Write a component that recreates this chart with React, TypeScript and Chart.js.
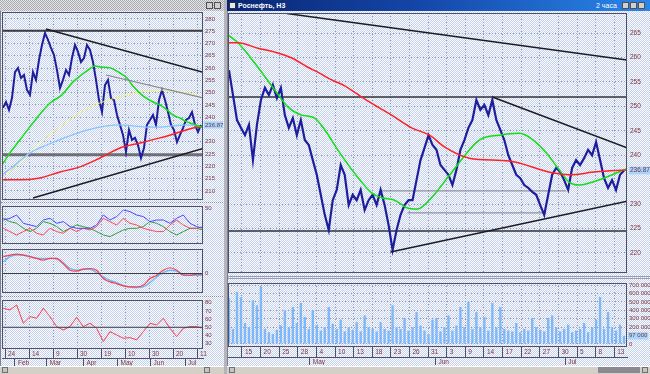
import React, { useEffect, useRef } from "react";
import { Chart, registerables } from "chart.js";

Chart.register(...registerables);

/* ================= RIGHT WINDOW (2-hour bars, Apr – Jul) ================= */
const rightClose = [
  257.4, 252.3, 247.2, 245.6, 244.1, 246.2, 239.0, 246.2, 251.3, 253.8,
  252.3, 254.4, 251.7, 253.8, 248.2, 245.6, 247.6, 244.1, 247.2, 243.1,
  242.1, 239.0, 236.0, 231.9, 227.8, 224.7, 230.8, 232.9, 238.0, 236.0,
  229.8, 231.9, 230.8, 232.9, 228.8, 230.8, 231.9, 229.8, 232.9, 229.8,
  225.7, 220.6, 224.7, 227.8, 229.8, 230.8, 230.8, 234.9, 239.0, 241.5,
  244.1, 242.1, 241.1, 238.0, 237.0, 236.0, 233.9, 237.0, 241.1, 243.1,
  245.6, 247.2, 251.3, 249.3, 250.3, 248.2, 251.3, 247.2, 245.2, 243.1,
  240.0, 238.0, 236.0, 235.3, 233.9, 233.3, 232.5, 231.9, 229.8, 227.8,
  231.9, 236.0, 237.4, 236.6, 234.9, 232.9, 237.4, 239.0, 238.0, 239.4,
  241.1, 240.0, 242.7, 239.0, 235.3, 233.3, 234.9, 232.9, 236.0, 236.87,
];
const rightLast = 236.87;
const rightSlowMaX = [-0.25, 2.25, 7.25, 11.5, 15.75, 19.75, 22.25, 25.75, 29, 33.25, 37.25, 40.75, 45.75, 50.25, 54, 60.25, 70.25, 81, 85.25, 92, 99.5];
const rightSlowMaY = [263.0, 263.0, 261.9, 261.1, 259.9, 258.0, 257.0, 255.4, 254.2, 251.9, 249.9, 248.2, 245.6, 244.1, 241.7, 239.4, 238.8, 236.4, 236.0, 236.6, 237.0];
const rightFastMaX = [-0.25, 2.25, 7.25, 11.5, 14.75, 18.25, 21.5, 24, 27.25, 32.25, 35.75, 38.25, 41.5, 44.75, 47.25, 50.75, 55.25, 62.75, 67.75, 72.75, 75.25, 79.5, 82.75, 85.25, 87.75, 90.25, 94.5, 99.5];
const rightFastMaY = [264.6, 263.0, 258.0, 253.3, 249.9, 248.2, 247.6, 245.2, 241.1, 235.5, 232.3, 231.3, 230.8, 229.2, 229.0, 231.3, 235.9, 243.1, 244.1, 244.5, 243.7, 240.5, 237.0, 234.5, 233.9, 234.3, 235.5, 237.2];
const rightTrendTopX = [14.5, 99.75];
const rightTrendTopY = [269.0, 259.5];
const rightTrendMidX = [66, 99.75];
const rightTrendMidY = [251.9, 241.5];
const rightSupportX = [40.5, 99.75];
const rightSupportY = [220.2, 230.6];
const rightLevelHigh = 251.9;
const rightLevelLow = 224.5;
const rightLevelA_X = [38, 84.5];
const rightLevelA = 232.7;
const rightLevelB_X = [44.75, 79.5];
const rightLevelB = 228.2;
const rightPriceTicks = [220, 225, 230, 236.87, 240, 245, 250, 255, 260, 265];

const rightVolume = [
  550000, 180000, 620000, 560000, 250000, 200000, 520000, 460000, 680000, 180000,
  140000, 120000, 170000, 220000, 400000, 200000, 440000, 250000, 490000, 320000,
  180000, 400000, 230000, 160000, 200000, 440000, 240000, 180000, 290000, 150000,
  200000, 170000, 260000, 150000, 340000, 200000, 180000, 150000, 260000, 180000,
  160000, 460000, 200000, 180000, 310000, 160000, 200000, 380000, 220000, 160000,
  120000, 290000, 310000, 150000, 200000, 340000, 160000, 220000, 440000, 200000,
  500000, 180000, 380000, 200000, 320000, 160000, 490000, 200000, 440000, 180000,
  160000, 150000, 250000, 140000, 180000, 160000, 310000, 200000, 170000, 150000,
  310000, 340000, 200000, 150000, 180000, 230000, 140000, 160000, 180000, 250000,
  140000, 200000, 290000, 560000, 180000, 380000, 200000, 160000, 230000, 97000,
];
const rightVolumeTicks = [0, 97000, 200000, 300000, 400000, 500000, 600000, 700000];
const rightDays = ["15", "20", "25", "28", "4", "10", "13", "18", "23", "26", "31", "3", "9", "14", "17", "22", "27", "30", "5", "8", "13"];
const rightMonths = ["May", "Jun", "Jul"];
const rightMonthStart = [20.25, 51.75, 84.25];

/* ================= LEFT WINDOW (daily, Jan – Jul) ================= */
const leftClose = [
  243.8, 246.2, 243.0, 247.8, 258.4, 260.1, 256.0, 257.2, 251.1, 249.1,
  258.4, 255.2, 263.3, 269.4, 274.3, 271.5, 268.2, 265.3, 259.2, 251.9,
  255.2, 259.2, 257.2, 264.1, 269.4, 266.6, 262.5, 264.1, 269.4, 267.4,
  262.5, 255.2, 247.0, 242.1, 253.1, 255.2, 247.8, 247.0, 240.9, 236.9,
  232.8, 225.9, 234.8, 230.8, 231.6, 228.7, 223.4, 227.5, 236.9, 238.9,
  240.9, 236.9, 247.0, 251.1, 247.0, 242.1, 236.9, 234.8, 229.9, 232.8,
  235.6, 238.9, 239.7, 242.1, 236.9, 234.0, 236.87,
];
const leftLast = 236.87;
const leftGreenMaX = [-0.33, 2.33, 5.67, 10, 15.67, 19.67, 23.33, 25.67, 28.33, 30.67, 32.33, 35.67, 39, 41.33, 43.33, 46.67, 50, 52.33, 54.67, 56.67, 59, 61.33, 63.33, 66.67];
const leftGreenMaY = [220.6, 225.5, 230.8, 237.7, 245.8, 249.1, 254.4, 256.8, 259.2, 260.9, 260.5, 260.1, 258.0, 256.0, 252.7, 248.7, 246.2, 245.0, 243.0, 240.9, 239.7, 238.1, 237.3, 235.8];
const leftYellowMaX = [-0.33, 5.67, 12.33, 19, 25.67, 32.33, 39, 45.67, 52.33, 56.67, 61.33, 66.67];
const leftYellowMaY = [215.3, 221.4, 229.5, 236.0, 241.7, 245.8, 248.3, 250.3, 251.1, 250.7, 249.9, 247.9];
const leftBlueMaX = [-0.33, 3.33, 9, 14.67, 21.33, 28, 34.67, 39, 43.33, 48, 52.33, 56.67, 61.33, 66.67];
const leftBlueMaY = [216.5, 219.8, 225.5, 228.7, 232.0, 234.8, 236.5, 236.9, 236.5, 236.0, 236.0, 236.5, 236.9, 236.0];
const leftRedMaX = [-0.33, 5.67, 12.33, 19, 25.67, 32.33, 39, 45.67, 52.33, 59, 63.33, 66.67];
const leftRedMaY = [214.5, 214.5, 215.3, 217.7, 219.8, 223.4, 227.5, 229.5, 231.6, 234.0, 235.6, 236.2];
const leftTrendTopX = [14.33, 66.67];
const leftTrendTopY = [275.9, 258.3];
const leftTrendMidX = [34.33, 66.67];
const leftTrendMidY = [257.2, 247.9];
const leftSupportX = [10, 66.67];
const leftSupportY = [207.1, 227.3];
const leftLevelHigh = 275.2;
const leftLevelLow = 224.7;
const leftPriceTicks = [210, 215, 220, 225, 230, 236.87, 240, 245, 250, 255, 260, 265, 270, 275, 280];

const leftDiPlus = [38.3, 40, 43.3, 35, 33.3, 31.7, 38.3, 40, 35, 36.7, 31.7, 30, 30, 30, 33.3, 43.3, 38.3, 41.7, 48.3, 46.7, 43.3, 41.7, 36.7, 38.3, 38.3, 35, 40, 43.3, 35, 31.7, 30];
const leftDiMinus = [30, 26.7, 23.3, 26.7, 30, 25, 23.3, 30, 26.7, 25, 30, 26.7, 30, 28.3, 31.7, 40, 36.7, 33.3, 40, 35, 33.3, 30, 28.3, 26.7, 26.7, 33.3, 38.3, 33.3, 30, 30, 31.7];
const leftAdx = [40, 36.7, 35, 30, 26.7, 30, 36.7, 35, 31.7, 26.7, 30, 33.3, 31.7, 30, 26.7, 23.3, 21.7, 25, 28.3, 30, 30, 31.7, 36.7, 35, 31.7, 26.7, 23.3, 26.7, 30, 30, 28.3];
const leftMacd = [16.7, 18.3, 19.3, 18.3, 16.7, 15, 13.3, 15, 15, 10, 3.3, 2.3, 4.3, 5, 3.3, -5, -8.3, -10, -12.3, -13.3, -13.3, -11.7, -5, -1.7, 3.3, 5.7, 3.3, -1.7, -1.7, -0.7, -0.7];
const leftSignal = [11.7, 16.7, 18.3, 18.3, 16.7, 15, 15, 15, 14.3, 10, 5, 3.3, 4.3, 4.3, 1, -3.3, -6.7, -9, -11.7, -13.3, -14, -13.3, -9, -3.3, 1, 3.3, 2.3, -1, -1.7, -1.7, -1.7];
const leftRsi = [73.2, 71.1, 77.2, 54.9, 63.0, 61.0, 73.2, 63.0, 50.8, 46.7, 50.8, 62.2, 50.8, 54.9, 48.8, 32.5, 44.7, 40.7, 36.6, 37.4, 34.6, 44.7, 54.9, 52.8, 61.0, 48.8, 38.6, 48.8, 50.8, 50.8, 48.8];
const leftRsiTicks = [30, 40, 50, 60, 70, 80];
const leftDays = ["24", "14", "9", "30", "19", "10", "30", "20", "11"];
const leftMonths = ["Feb", "Mar", "Apr", "May", "Jun", "Jul"];
const leftMonthStart = [4, 14.6, 26.8, 38.2, 49.2, 60.7];

/* ================= styling / layout ================= */
const FONT = '"Liberation Sans", Arial, sans-serif';
const GRID = "#8f99ba";
const FRAME = "#4c5068";
const LABEL = "#7a3434";
const NAVY = "#1e1e9c";
const BLUE_CHECK = "repeating-conic-gradient(#ffffff 0% 25%, #c4d0f2 0% 50%) 0 0 / 2px 2px";
const GRAY_CHECK = "repeating-conic-gradient(#e6e6e6 0% 25%, #a9a9b0 0% 50%) 0 0 / 2px 2px";

const R_MIN = -0.25, R_MAX = 99.75, R_DAY0 = 3.25, R_DAYSTEP = 4.665;
const L_MIN = -0.33, L_MAX = 66.67, L_DAY0 = 0.67, L_DAYSTEP = 8;
const L_OSC0 = 0.11, L_OSCSTEP = 2.222;

const rightDayAt = rightDays.map((_, k) => R_DAY0 + k * R_DAYSTEP);
const leftDayAt = leftDays.map((_, k) => L_DAY0 + k * L_DAYSTEP);

const seq = (ys: number[], x0 = 0, dx = 1) => ys.map((y, i) => ({ x: x0 + i * dx, y }));
const pairs = (xs: number[], ys: number[]) => xs.map((x, i) => ({ x, y: ys[i] }));
const hline = (x0: number, x1: number, y: number) => [{ x: x0, y }, { x: x1, y }];
const fmtVol = (v: number) => (v === 0 ? "0" : String(Math.round(v)).replace(/\B(?=(\d{3})+(?!\d))/g, " "));

const framePlugin = {
  id: "frame",
  afterDatasetsDraw(chart: any) {
    const { ctx, chartArea: a } = chart;
    ctx.save();
    ctx.strokeStyle = FRAME;
    ctx.lineWidth = 1;
    ctx.strokeRect(a.left + 0.5, a.top + 0.5, a.right - a.left - 1, a.bottom - a.top - 1);
    ctx.restore();
  },
};

function line(data: any[], color: string, width: number, extra: any = {}) {
  return { type: "line", data, borderColor: color, backgroundColor: color, borderWidth: width, pointRadius: 0, fill: false, tension: 0, ...extra };
}
const smooth = { tension: 0.4, cubicInterpolationMode: "monotone" };

function yRight(min: number, max: number, ticks: number[], width: number, o: any = {}) {
  return {
    type: "linear",
    position: "right",
    min,
    max,
    afterBuildTicks: (s: any) => { s.ticks = ticks.map((v) => ({ value: v })); },
    afterFit: (s: any) => { s.width = width; s.paddingTop = 0; s.paddingBottom = 0; },
    ticks: {
      autoSkip: false,
      padding: o.pad ?? 3,
      font: { family: FONT, size: o.size ?? 6.5 },
      color: LABEL,
      callback: (v: number) => (o.fmt ? o.fmt(v) : v === o.last ? v.toFixed(2) : String(v)),
      showLabelBackdrop: (c: any) => o.last !== undefined && c.tick && c.tick.value === o.last,
      backdropColor: "#a6d4ff",
      backdropPadding: { left: 1, right: 1, top: 0, bottom: 0 },
    },
    grid: {
      display: !!o.grid,
      drawTicks: false,
      color: (c: any) => (c.tick && c.tick.value === o.last ? "rgba(0,0,0,0)" : GRID),
    },
    border: { display: false, dash: [1, 2] },
  };
}

function xGrid(min: number, max: number, at: number[]) {
  return {
    type: "linear",
    min,
    max,
    offset: false,
    afterBuildTicks: (s: any) => { s.ticks = at.map((v) => ({ value: v })); },
    afterFit: (s: any) => { s.height = 0; s.paddingLeft = 0; s.paddingRight = 0; },
    ticks: { display: false },
    grid: { color: GRID, drawTicks: false, offset: false },
    border: { display: false, dash: [1, 2] },
  };
}

function xLabels(min: number, max: number, at: number[], labels: string[], h: number, weight: number, onArea: boolean) {
  return {
    type: "linear",
    position: "bottom",
    weight,
    min,
    max,
    offset: false,
    afterBuildTicks: (s: any) => { s.ticks = at.map((v) => ({ value: v })); },
    afterFit: (s: any) => { s.height = h; s.paddingLeft = 0; s.paddingRight = 0; },
    ticks: {
      autoSkip: false,
      maxRotation: 0,
      minRotation: 0,
      align: "start",
      labelOffset: 3,
      padding: -(h - 1),
      font: { family: FONT, size: 6.5 },
      color: LABEL,
      callback: (_v: number, i: number) => labels[i],
    },
    grid: {
      drawOnChartArea: onArea,
      color: GRID,
      drawTicks: true,
      tickLength: h,
      tickColor: FRAME,
      tickWidth: 1,
      tickBorderDash: [],
      offset: false,
    },
    border: { display: !onArea, color: FRAME, width: 1, dash: onArea ? [1, 2] : [] },
  };
}

function baseOptions(scales: any) {
  return {
    responsive: false,
    maintainAspectRatio: false,
    animation: false,
    events: [],
    layout: { padding: 0 },
    plugins: { legend: { display: false }, tooltip: { enabled: false } },
    scales,
  };
}

/* ---- chart configs ---- */
function rightPriceConfig() {
  return {
    type: "line",
    data: {
      datasets: [
        line(pairs(rightTrendTopX, rightTrendTopY), "#1c1c1c", 1.5),
        line(pairs(rightTrendMidX, rightTrendMidY), "#1c1c1c", 1.5),
        line(pairs(rightSupportX, rightSupportY), "#1c1c1c", 1.5),
        line(pairs(rightSlowMaX, rightSlowMaY), "#ff2020", 1.5, smooth),
        line(pairs(rightFastMaX, rightFastMaY), "#10e010", 1.5, smooth),
        line(seq(rightClose), NAVY, 2.2),
        line(hline(R_MIN, R_MAX, rightLevelHigh), "#303036", 1.5),
        line(hline(R_MIN, R_MAX, rightLevelLow), "#303036", 1.5),
        line(hline(rightLevelA_X[0], rightLevelA_X[1], rightLevelA), "#7c7c84", 1),
        line(hline(rightLevelB_X[0], rightLevelB_X[1], rightLevelB), "#7c7c84", 1),
      ],
    },
    options: baseOptions({
      x: xGrid(R_MIN, R_MAX, rightDayAt),
      y: yRight(215.9, 269.1, rightPriceTicks, 23, { last: rightLast, grid: true }),
    }),
    plugins: [framePlugin],
  };
}

function rightVolumeConfig() {
  return {
    type: "bar",
    data: {
      datasets: [
        {
          type: "bar",
          data: seq(rightVolume),
          backgroundColor: "#7fb8f6",
          borderWidth: 0,
          barPercentage: 0.6,
          categoryPercentage: 1,
        },
      ],
    },
    options: baseOptions({
      x: xLabels(R_MIN, R_MAX, rightDayAt, rightDays, 10, 0, true),
      x2: xLabels(R_MIN, R_MAX, rightMonthStart, rightMonths, 8, 1, false),
      y: yRight(-36000, 726000, rightVolumeTicks, 23, { size: 6, pad: 2, grid: true, last: rightVolume[rightVolume.length - 1], fmt: fmtVol }),
    }),
    plugins: [framePlugin],
  };
}

function leftPriceConfig() {
  return {
    type: "line",
    data: {
      datasets: [
        line(pairs(leftTrendTopX, leftTrendTopY), "#1c1c1c", 1.5),
        line(pairs(leftSupportX, leftSupportY), "#1c1c1c", 1.5),
        line(pairs(leftTrendMidX, leftTrendMidY), "#86868c", 1.2),
        line(pairs(leftGreenMaX, leftGreenMaY), "#10e010", 1.5, smooth),
        line(pairs(leftRedMaX, leftRedMaY), "#ff2020", 1.5, smooth),
        line(pairs(leftBlueMaX, leftBlueMaY), "#84c4ff", 1.3, smooth),
        line(pairs(leftYellowMaX, leftYellowMaY), "#f4f070", 1, smooth),
        line(seq(leftClose), NAVY, 2),
        line(hline(L_MIN, L_MAX, leftLevelHigh), "#3a3a40", 2),
        line(hline(L_MIN, L_MAX, leftLevelLow), "#6e6e74", 3),
      ],
    },
    options: baseOptions({
      x: xGrid(L_MIN, L_MAX, leftDayAt),
      y: yRight(206.3, 282.85, leftPriceTicks, 20, { last: leftLast, grid: true, size: 6, pad: 2 }),
    }),
    plugins: [framePlugin],
  };
}

function leftDmiConfig() {
  return {
    type: "line",
    data: {
      datasets: [
        line(seq(leftDiPlus, L_OSC0, L_OSCSTEP), "#4848ff", 1),
        line(seq(leftDiMinus, L_OSC0, L_OSCSTEP), "#ff4848", 1),
        line(seq(leftAdx, L_OSC0, L_OSCSTEP), "#30a030", 1),
      ],
    },
    options: baseOptions({
      x: xGrid(L_MIN, L_MAX, leftDayAt),
      y: yRight(14.3, 52.3, [50], 20, { size: 6, pad: 2 }),
    }),
    plugins: [framePlugin],
  };
}

function leftMacdConfig() {
  return {
    type: "line",
    data: {
      datasets: [
        line(hline(L_MIN, L_MAX, 0), "#3a3a40", 1),
        line(seq(leftMacd, L_OSC0, L_OSCSTEP), "#ff3c3c", 1.2, smooth),
        line(seq(leftSignal, L_OSC0, L_OSCSTEP), "#6cb8ff", 1.4, smooth),
      ],
    },
    options: baseOptions({
      x: xGrid(L_MIN, L_MAX, leftDayAt),
      y: yRight(-19.3, 24.3, [0], 20, { size: 6, pad: 2 }),
    }),
    plugins: [framePlugin],
  };
}

function leftRsiConfig() {
  return {
    type: "line",
    data: {
      datasets: [
        line(hline(L_MIN, L_MAX, 50), "#3a3a40", 1),
        line(seq(leftRsi, L_OSC0, L_OSCSTEP), "#ff3c3c", 1),
      ],
    },
    options: baseOptions({
      x: xLabels(L_MIN, L_MAX, leftDayAt, leftDays, 9, 0, true),
      x2: xLabels(L_MIN, L_MAX, leftMonthStart, leftMonths, 8, 1, false),
      y: yRight(23.5, 83.3, leftRsiTicks, 20, { size: 6, pad: 2 }),
    }),
    plugins: [framePlugin],
  };
}

function ChartBox({ x, y, w, h, make }: { x: number; y: number; w: number; h: number; make: () => any }) {
  const ref = useRef<HTMLCanvasElement | null>(null);
  useEffect(() => {
    const c = new Chart(ref.current as HTMLCanvasElement, make());
    return () => c.destroy();
  }, []);
  return <canvas ref={ref} width={w} height={h} style={{ position: "absolute", left: x, top: y, width: w, height: h }} />;
}

const abs = (l: number, t: number, w: number, h: number, extra: any = {}) => ({ position: "absolute" as const, left: l, top: t, width: w, height: h, boxSizing: "border-box" as const, ...extra });

function WinButtons({ x, y, n }: { x: number; y: number; n: number }) {
  return (
    <>
      {Array.from({ length: n }).map((_, i) => (
        <div key={i} style={abs(x + i * 8, y, 7, 7, { background: "#d4d0c8", border: "1px solid #505058" })} />
      ))}
    </>
  );
}

export default function App() {
  return (
    <div style={{ position: "fixed", left: 0, top: 0, width: 650, height: 374, overflow: "hidden", background: "#b4b4bc", fontFamily: FONT }}>
      {/* left window */}
      <div style={abs(0, 0, 224, 11, { background: GRAY_CHECK })} />
      <WinButtons x={206} y={2} n={2} />
      <div style={abs(0, 11, 224, 355, { background: BLUE_CHECK, borderLeft: "1px solid #808088" })} />
      <div style={abs(1, 202, 222, 1, { borderTop: "1px dotted #8a8aa0" })} />
      <div style={abs(1, 296, 222, 1, { borderTop: "1px dotted #8a8aa0" })} />
      <ChartBox x={2} y={12} w={221} h={188} make={leftPriceConfig} />
      <ChartBox x={2} y={206} w={221} h={38} make={leftDmiConfig} />
      <ChartBox x={2} y={249} w={221} h={44} make={leftMacdConfig} />
      <ChartBox x={2} y={300} w={221} h={66} make={leftRsiConfig} />
      <div style={abs(0, 366, 224, 8, { background: "#d4d0c8", borderTop: "1px solid #ffffff" })} />
      <div style={abs(2, 367, 6, 6, { background: "#c8c4bc", border: "1px solid #707078" })} />
      <div style={abs(204, 367, 6, 6, { background: "#c8c4bc", border: "1px solid #707078" })} />

      {/* right window */}
      <div style={abs(227, 0, 423, 11, { background: "linear-gradient(90deg,#0a2672 0%,#1446a8 45%,#2a86ea 100%)" })} />
      <div style={abs(229, 2, 7, 7, { background: "#e8e8f0", border: "1px solid #303040" })} />
      <div style={abs(238, 0, 120, 11, { color: "#ffffff", fontSize: 7, fontWeight: 700, lineHeight: "11px", whiteSpace: "nowrap" })}>Роснефть, Н3</div>
      <div style={abs(596, 0, 30, 11, { color: "#ffffff", fontSize: 7, lineHeight: "11px", whiteSpace: "nowrap" })}>2 часа</div>
      <WinButtons x={622} y={2} n={3} />
      <div style={abs(227, 11, 423, 355, { background: BLUE_CHECK, borderLeft: "1px solid #808088" })} />
      <div style={abs(228, 276, 422, 3, { borderTop: "1px solid #9a9ab0", borderBottom: "1px solid #9a9ab0" })} />
      <ChartBox x={228} y={13} w={422} h={260} make={rightPriceConfig} />
      <ChartBox x={228} y={283} w={422} h={82} make={rightVolumeConfig} />
      <div style={abs(227, 366, 423, 8, { background: "#d4d0c8", borderTop: "1px solid #ffffff" })} />
      <div style={abs(229, 367, 6, 6, { background: "#c8c4bc", border: "1px solid #707078" })} />
      <div style={abs(598, 367, 42, 6, { background: "#8a8a90" })} />
      <div style={abs(642, 367, 6, 6, { background: "#c8c4bc", border: "1px solid #707078" })} />
    </div>
  );
}
